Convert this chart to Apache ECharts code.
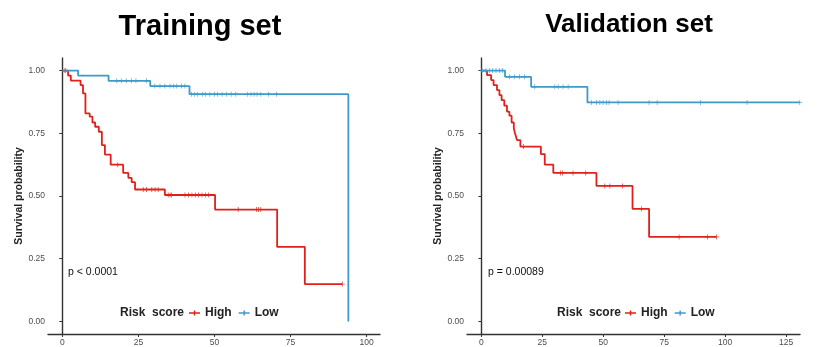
<!DOCTYPE html>
<html>
<head>
<meta charset="utf-8">
<script src="https://cdn.jsdelivr.net/npm/echarts@6/dist/echarts.min.js"></script>
<style>
html,body{margin:0;padding:0;background:#fff;}
#c{width:818px;height:347px;}
</style>
</head>
<body>
<div id="c"></div>
<script>
// ---------- data ----------
const panelTitles = ['Training set', 'Validation set'];
const pValues = ['p < 0.0001', 'p = 0.00089'];
const groupNames = ['High', 'Low'];
const legendTitle = 'Risk  score';
const yAxisName = 'Survival probability';
const yTicks = [0, 0.25, 0.5, 0.75, 1];
const xTicksTrain = [0, 25, 50, 75, 100];
const xTicksValid = [0, 25, 50, 75, 100, 125];

// Training set, High risk: event times and survival after each event
const trainHighTime = [0, 1.9, 2.8, 6.0, 6.8, 7.6, 9.0, 9.9, 10.8, 12.0, 13.0, 14.0, 15.9, 20.0, 21.7, 22.8, 23.9, 33.7, 50.2, 70.6, 79.7];
const trainHighSurv = [1, 0.98, 0.96, 0.942, 0.909, 0.829, 0.816, 0.793, 0.776, 0.756, 0.703, 0.665, 0.625, 0.592, 0.572, 0.555, 0.526, 0.504, 0.446, 0.297, 0.149];
const trainHighCensor = [0.9, 18.2, 26.6, 27.7, 29.4, 30.5, 31.5, 34.8, 35.4, 35.9, 40.3, 41.5, 42.6, 43.7, 44.8, 45.9, 47.0, 48.0, 57.8, 63.8, 64.5, 65.2, 92.0];

// Training set, Low risk
const trainLowTime = [0, 5.2, 15.2, 28.9, 41.8, 94.0];
const trainLowSurv = [1, 0.98, 0.959, 0.938, 0.906, 0];
const trainLowCensor = [1.0, 17.9, 19.4, 21.0, 22.7, 24.2, 27.7, 30.4, 32.1, 33.7, 35.4, 36.5, 37.6, 39.2, 40.3,
  42.5, 43.5, 44.5, 46.0, 47.0, 48.5, 50.0, 51.0, 52.5, 54.0, 55.5, 57.0, 60.8, 62.0, 63.0, 64.0, 65.2, 67.8, 70.4];

// Validation set, High risk
const validHighTime = [0, 2.3, 4.0, 5.0, 6.4, 7.4, 8.3, 9.4, 10.5, 11.5, 12.4, 13.3, 13.8, 14.6, 16.0, 24.4, 26.0, 29.5, 47.2, 62.0, 68.8];
const validHighSurv = [1, 0.982, 0.962, 0.942, 0.922, 0.902, 0.882, 0.86, 0.836, 0.82, 0.793, 0.77, 0.75, 0.723, 0.697, 0.667, 0.625, 0.592, 0.54, 0.449, 0.337];
const validHighCensor = [17.3, 32.4, 33.3, 37.6, 42.8, 50.6, 52.7, 57.9, 65.7, 81.1, 92.7, 96.4];

// Validation set, Low risk
const validLowTime = [0, 9.7, 20.4, 43.5];
const validLowSurv = [1, 0.975, 0.935, 0.873];
const validLowCensor = [0.3, 1.9, 3.3, 4.6, 6.0, 7.4, 8.7, 11.5, 13.5, 15.6, 17.7, 21.9, 30.1, 31.5, 33.5, 35.6,
  45.1, 47.2, 48.6, 49.9, 51.3, 52.4, 56.1, 68.8, 72.1, 89.9, 109.0, 130.6];

// ---------- helpers ----------
const RED = '#E0201B';
const BLUE = '#3F9ACB';
const FONT = 'Liberation Sans, Arial, sans-serif';
function survAt(times, surv, t) {
  let s = surv[0];
  for (let i = 0; i < times.length; i++) { if (times[i] <= t) s = surv[i]; }
  return s;
}
function curve(times, surv, censor) {
  const d = times.map((t, i) => [t, surv[i]]);
  const lastC = Math.max.apply(null, censor);
  if (lastC > times[times.length - 1]) d.push([lastC, surv[surv.length - 1]]);
  return d;
}
function marks(times, surv, censor) {
  return censor.map(t => [t, survAt(times, surv, t)]);
}
const crossPath = 'path://M4.2,0H5.8V4.2H10V5.8H5.8V10H4.2V5.8H0V4.2H4.2Z';

const groups = [
  [[trainHighTime, trainHighSurv, trainHighCensor], [trainLowTime, trainLowSurv, trainLowCensor]],
  [[validHighTime, validHighSurv, validHighCensor], [validLowTime, validLowSurv, validLowCensor]]
];
const colors = [RED, BLUE];

const series = [];
groups.forEach((g, pi) => {
  g.forEach((arr, gi) => {
    series.push({
      name: groupNames[gi], type: 'line', step: 'end',
      xAxisIndex: pi, yAxisIndex: pi,
      data: curve(arr[0], arr[1], arr[2]),
      showSymbol: false, symbol: 'none',
      lineStyle: { color: colors[gi], width: 1.8 },
      itemStyle: { color: colors[gi] },
      animation: false, silent: true, z: 3
    });
    series.push({
      name: groupNames[gi], type: 'scatter',
      xAxisIndex: pi, yAxisIndex: pi,
      data: marks(arr[0], arr[1], arr[2]),
      symbol: crossPath, symbolSize: 5,
      itemStyle: { color: colors[gi] },
      animation: false, silent: true, z: 4
    });
  });
});

const grids = [
  { left: 48, top: 58, width: 332, height: 277 },
  { left: 467, top: 58, width: 333, height: 277 }
];
const xRanges = [[-4.7, 104.4], [-5.9, 130.7]];
const xTickSets = [xTicksTrain, xTicksValid];

function yAxis(i) {
  return {
    gridIndex: i, type: 'value', min: -0.05, max: 1.05,
    axisLine: { show: true, lineStyle: { color: '#333', width: 1.4 } },
    axisTick: { show: true, length: 3, customValues: yTicks, lineStyle: { color: '#333' } },
    axisLabel: { customValues: yTicks, formatter: v => v.toFixed(2), fontSize: 8.5, color: '#4d4d4d', margin: 3, fontFamily: FONT },
    splitLine: { show: false },
    name: yAxisName, nameLocation: 'middle', nameGap: 22,
    nameTextStyle: { fontSize: 10.5, fontWeight: 'bold', color: '#222', fontFamily: FONT }
  };
}
function xAxis(i) {
  return {
    gridIndex: i, type: 'value', min: xRanges[i][0], max: xRanges[i][1],
    axisLine: { show: true, onZero: false, lineStyle: { color: '#333', width: 1.4 } },
    axisTick: { show: true, length: 3, customValues: xTickSets[i], lineStyle: { color: '#333' } },
    axisLabel: { customValues: xTickSets[i], fontSize: 8.5, color: '#4d4d4d', margin: 4, fontFamily: FONT },
    splitLine: { show: false }
  };
}

const legendIcon = 'path://M0,3.2H12V4.8H0Z M5.2,1.2H6.8V6.8H5.2Z';
function legend(left) {
  return {
    left: left, top: 302, orient: 'horizontal',
    data: groupNames.map((n, gi) => ({ name: n, icon: legendIcon, itemStyle: { color: colors[gi] } })),
    itemWidth: 11, itemHeight: 7, itemGap: 7,
    selectedMode: false,
    textStyle: { fontSize: 12, fontWeight: 'bold', color: '#222', fontFamily: FONT }
  };
}

const option = {
  backgroundColor: '#fff',
  animation: false,
  title: [
    { text: panelTitles[0], left: 195, top: 7, textAlign: 'center',
      textStyle: { fontSize: 29, fontWeight: 'bold', color: '#000', fontFamily: FONT } },
    { text: panelTitles[1], left: 624, top: 7, textAlign: 'center',
      textStyle: { fontSize: 26, fontWeight: 'bold', color: '#000', fontFamily: FONT } }
  ],
  grid: grids,
  xAxis: [xAxis(0), xAxis(1)],
  yAxis: [yAxis(0), yAxis(1)],
  legend: [legend(184), legend(620)],
  graphic: [
    { type: 'text', left: 68, top: 267, style: { text: pValues[0], fontSize: 10.5, fill: '#111', fontFamily: FONT } },
    { type: 'text', left: 488, top: 267, style: { text: pValues[1], fontSize: 10.5, fill: '#111', fontFamily: FONT } },
    { type: 'text', left: 120, top: 306.5, style: { text: legendTitle, fontSize: 12, fontWeight: 'bold', fill: '#222', fontFamily: FONT } },
    { type: 'text', left: 557, top: 306.5, style: { text: legendTitle, fontSize: 12, fontWeight: 'bold', fill: '#222', fontFamily: FONT } }
  ],
  series: series
};

const chart = echarts.init(document.getElementById('c'), null, { renderer: 'canvas' });
chart.setOption(option);
</script>
</body>
</html>
